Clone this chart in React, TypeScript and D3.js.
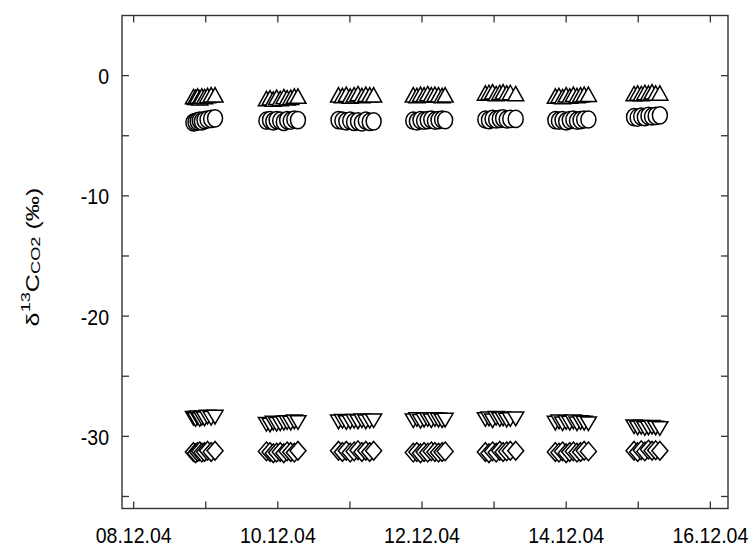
import React from "react";
import * as d3 from "d3";

// Sampling times (local time)
const sampleTimes = [
  // cluster around 09.12.04
  "2004-12-08T19:54", "2004-12-08T20:36", "2004-12-08T21:18", "2004-12-08T22:00", "2004-12-08T22:42",
  "2004-12-08T23:36", "2004-12-09T00:36", "2004-12-09T01:48", "2004-12-09T03:06",
  // 10.12.04
  "2004-12-09T20:12", "2004-12-09T21:24", "2004-12-09T22:30", "2004-12-09T23:36", "2004-12-10T00:48",
  "2004-12-10T02:00", "2004-12-10T03:06", "2004-12-10T04:18", "2004-12-10T05:30", "2004-12-10T06:42",
  // 11.12.04
  "2004-12-10T20:12", "2004-12-10T21:30", "2004-12-10T22:48", "2004-12-11T00:06", "2004-12-11T01:24",
  "2004-12-11T02:42", "2004-12-11T04:00", "2004-12-11T05:18", "2004-12-11T06:36", "2004-12-11T07:54",
  // 12.12.04
  "2004-12-11T21:06", "2004-12-11T22:18", "2004-12-11T23:30", "2004-12-12T00:42", "2004-12-12T01:54",
  "2004-12-12T03:06", "2004-12-12T04:18", "2004-12-12T05:30", "2004-12-12T06:42", "2004-12-12T07:42",
  // 13.12.04
  "2004-12-12T21:06", "2004-12-12T22:18", "2004-12-12T23:30", "2004-12-13T00:42", "2004-12-13T01:54",
  "2004-12-13T03:00", "2004-12-13T04:12", "2004-12-13T05:24", "2004-12-13T07:12",
  // 14.12.04
  "2004-12-13T20:24", "2004-12-13T21:36", "2004-12-13T22:48", "2004-12-14T00:00", "2004-12-14T01:12",
  "2004-12-14T02:24", "2004-12-14T03:36", "2004-12-14T04:48", "2004-12-14T06:00", "2004-12-14T07:24",
  // 15.12.04
  "2004-12-14T22:36", "2004-12-14T23:48", "2004-12-15T01:00", "2004-12-15T02:12", "2004-12-15T03:24",
  "2004-12-15T04:36", "2004-12-15T05:48", "2004-12-15T07:12",
];

const upTriangleValues = [
  -1.75, -1.8, -1.7, -1.85, -1.7, -1.75, -1.65, -1.6, -1.6,
  -1.9, -1.85, -1.95, -1.8, -1.9, -1.75, -1.85, -1.8, -1.7, -1.7,
  -1.6, -1.65, -1.55, -1.7, -1.6, -1.5, -1.65, -1.55, -1.6, -1.6,
  -1.6, -1.65, -1.55, -1.6, -1.5, -1.6, -1.55, -1.6, -1.65, -1.6,
  -1.45, -1.4, -1.35, -1.5, -1.4, -1.35, -1.45, -1.4, -1.5,
  -1.7, -1.65, -1.75, -1.6, -1.7, -1.55, -1.65, -1.6, -1.55, -1.55,
  -1.5, -1.45, -1.5, -1.4, -1.45, -1.35, -1.45, -1.45,
];

const circleValues = [
  -3.9, -3.85, -3.8, -3.75, -3.8, -3.7, -3.65, -3.6, -3.55,
  -3.75, -3.7, -3.8, -3.7, -3.75, -3.85, -3.7, -3.75, -3.65, -3.7,
  -3.7, -3.75, -3.8, -3.75, -3.85, -3.8, -3.9, -3.75, -3.85, -3.8,
  -3.75, -3.8, -3.7, -3.75, -3.7, -3.65, -3.75, -3.7, -3.65, -3.7,
  -3.65, -3.7, -3.6, -3.65, -3.6, -3.55, -3.65, -3.6, -3.6,
  -3.7, -3.75, -3.7, -3.8, -3.7, -3.65, -3.75, -3.7, -3.65, -3.65,
  -3.45, -3.5, -3.4, -3.45, -3.35, -3.4, -3.35, -3.3,
];

const downTriangleValues = [
  -28.5, -28.6, -28.45, -28.6, -28.5, -28.55, -28.4, -28.5, -28.4,
  -29.0, -29.05, -28.9, -29.0, -28.95, -28.9, -28.85, -28.9, -28.8, -28.85,
  -28.8, -28.75, -28.85, -28.8, -28.75, -28.8, -28.7, -28.8, -28.75, -28.7,
  -28.7, -28.6, -28.75, -28.65, -28.6, -28.7, -28.6, -28.65, -28.7, -28.65,
  -28.6, -28.55, -28.7, -28.5, -28.6, -28.55, -28.65, -28.6, -28.55,
  -28.9, -28.8, -28.95, -28.85, -28.9, -28.8, -28.95, -28.85, -28.9, -28.95,
  -29.2, -29.3, -29.25, -29.35, -29.3, -29.25, -29.3, -29.35,
];

const diamondValues = [
  -31.3, -31.4, -31.3, -31.25, -31.35, -31.3, -31.2, -31.3, -31.2,
  -31.25, -31.3, -31.4, -31.35, -31.3, -31.4, -31.25, -31.3, -31.35, -31.2,
  -31.2, -31.3, -31.2, -31.35, -31.25, -31.15, -31.3, -31.2, -31.3, -31.2,
  -31.35, -31.3, -31.4, -31.3, -31.35, -31.25, -31.3, -31.35, -31.3, -31.25,
  -31.3, -31.4, -31.25, -31.35, -31.2, -31.3, -31.25, -31.2, -31.2,
  -31.3, -31.35, -31.25, -31.4, -31.3, -31.25, -31.35, -31.3, -31.2, -31.25,
  -31.2, -31.3, -31.15, -31.25, -31.1, -31.2, -31.15, -31.2,
];

const xTickDays = [
  "2004-12-08", "2004-12-09", "2004-12-10", "2004-12-11", "2004-12-12",
  "2004-12-13", "2004-12-14", "2004-12-15", "2004-12-16",
];
const xLabelDays = ["2004-12-08", "2004-12-10", "2004-12-12", "2004-12-14", "2004-12-16"];
const yMajorTicks = [0, -10, -20, -30];
const yMinorTicks = [-5, -15, -25, -35];
const xDomain = ["2004-12-07T20:07", "2004-12-16T05:53"];
const yDomain = [-36, 5];

const W = 752;
const H = 547;
const PL = 122;
const PR = 728;
const PT = 15.5;
const PB = 508.5;
const SY = 1.17; // vertical stretch of the original figure
const FONT = "'Liberation Sans', Arial, Helvetica, sans-serif";

const parseT = d3.timeParse("%Y-%m-%dT%H:%M");
const parseD = d3.timeParse("%Y-%m-%d");
const fmtD = d3.timeFormat("%d.%m.%y");

export default function App() {
  const x = d3.scaleTime().domain(xDomain.map((s) => parseT(s) as Date)).range([PL, PR]);
  const y = d3.scaleLinear().domain(yDomain).range([PB, PT]);
  const times = sampleTimes.map((s) => parseT(s) as Date);

  const TL = 7;
  const axisColor = "#333";
  const mk = { fill: "#fff", stroke: "#000", strokeWidth: 1.5 };

  const upTri = (cx: number, cy: number) => {
    const w = 8, h = 7.2;
    return `M${cx},${cy - h}L${cx + w},${cy + h}L${cx - w},${cy + h}Z`;
  };
  const downTri = (cx: number, cy: number) => {
    const w = 8, h = 6.8;
    return `M${cx - w},${cy - h}L${cx + w},${cy - h}L${cx},${cy + h}Z`;
  };
  const diamond = (cx: number, cy: number) => {
    const rx = 8, ry = 9.3;
    return `M${cx},${cy - ry}L${cx + rx},${cy}L${cx},${cy + ry}L${cx - rx},${cy}Z`;
  };

  return (
    <svg
      width={W}
      height={H}
      style={{ position: "absolute", left: 0, top: 0, background: "#fff" }}
      fontFamily={FONT}
    >
      <rect x={0} y={0} width={W} height={H} fill="#fff" />
      {/* markers */}
      <g>
        {times.map((t, i) => (
          <path key={"u" + i} d={upTri(x(t), y(upTriangleValues[i]))} {...mk} />
        ))}
      </g>
      <g>
        {times.map((t, i) => (
          <ellipse key={"c" + i} cx={x(t)} cy={y(circleValues[i])} rx={7.5} ry={8.6} {...mk} />
        ))}
      </g>
      <g>
        {times.map((t, i) => (
          <path key={"d" + i} d={downTri(x(t), y(downTriangleValues[i]))} {...mk} />
        ))}
      </g>
      <g>
        {times.map((t, i) => (
          <path key={"m" + i} d={diamond(x(t), y(diamondValues[i]))} {...mk} />
        ))}
      </g>

      {/* frame */}
      <rect x={PL} y={PT} width={PR - PL} height={PB - PT} fill="none" stroke={axisColor} strokeWidth={1.4} />

      {/* x ticks */}
      {xTickDays.map((d) => {
        const xp = x(parseD(d) as Date);
        return (
          <g key={d}>
            <line x1={xp} x2={xp} y1={PB} y2={PB - TL} stroke={axisColor} strokeWidth={1.3} />
            <line x1={xp} x2={xp} y1={PT} y2={PT + TL} stroke={axisColor} strokeWidth={1.3} />
          </g>
        );
      })}
      {xLabelDays.map((d) => {
        const dt = parseD(d) as Date;
        return (
          <text
            key={d}
            transform={`translate(${x(dt)}, 542.5) scale(1, ${SY})`}
            textAnchor="middle"
            fontSize={19.5}
            fill="#000"
          >
            {fmtD(dt)}
          </text>
        );
      })}

      {/* y ticks */}
      {[...yMajorTicks, ...yMinorTicks].map((v) => (
        <g key={v}>
          <line x1={PL} x2={PL + TL} y1={y(v)} y2={y(v)} stroke={axisColor} strokeWidth={1.3} />
          <line x1={PR} x2={PR - TL} y1={y(v)} y2={y(v)} stroke={axisColor} strokeWidth={1.3} />
        </g>
      ))}
      {yMajorTicks.map((v) => (
        <text
          key={v}
          transform={`translate(109, ${y(v) + 8.5}) scale(1, ${SY})`}
          textAnchor="end"
          fontSize={19.5}
          fill="#000"
        >
          {String(v).replace("\u2212", "-")}
        </text>
      ))}

      {/* y label */}
      <text
        transform={`translate(38.5, 257) rotate(-90) scale(1.4, 1)`}
        textAnchor="middle"
        fontSize={18}
        fill="#000"
      >
        δ
        <tspan fontSize={13} dy={-8.5}>13</tspan>
        <tspan dy={8.5}>C</tspan>
        <tspan fontSize={13} dy={1.5}>CO2</tspan>
        <tspan dy={-1.5}> (‰)</tspan>
      </text>
    </svg>
  );
}
